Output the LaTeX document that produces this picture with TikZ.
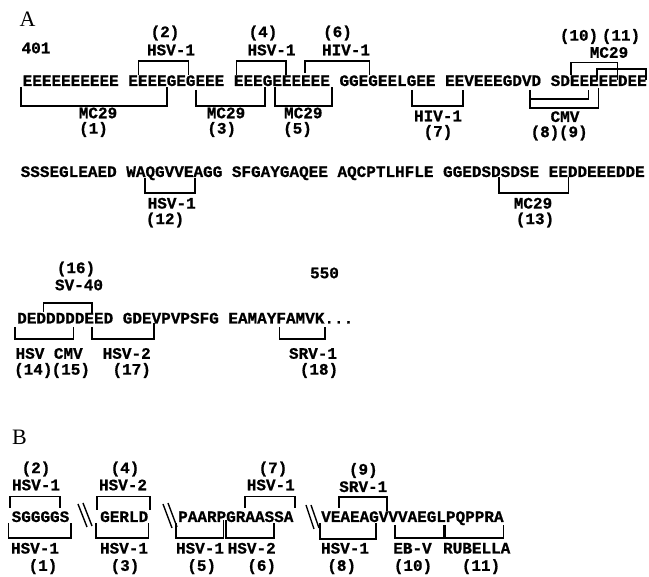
\documentclass[tikz,border=0pt]{standalone}
\usepackage{fontspec}
\setmainfont{Liberation Serif}
\newfontfamily\seqfont{Liberation Mono}[BoldFeatures={FakeBold=0.8}]
\newcommand\brkt[6]{%
  \coordinate (#1a) at (#2,#3);
  \coordinate (#1b) at (#4,#5);
  \coordinate (#1h) at (0,#6);
  \draw[brk] (#1a) -- (#1a |- #1h) -| (#1b);}
\begin{document}
\begin{tikzpicture}[x=1pt,y=-1pt,
  seq/.style={font={\seqfont\bfseries\fontsize{16}{16}\selectfont}, inner sep=0pt, anchor=base west},
  lab/.style={font={\seqfont\bfseries\fontsize{16}{16}\selectfont}, inner sep=0pt},
  panel/.style={font={\fontsize{22}{22}\selectfont}, inner sep=0pt, anchor=base west},
  brk/.style={line width=1.6pt, line join=miter},
  brk2/.style={line width=1.4pt}]
\useasboundingbox (0,0) rectangle (649,577);
% ---------------- panel A ----------------
\node[panel] (pA) at (19.5,27) {A};
\node[lab] (n401) at (36,48) {401};
\node[seq] (r1) at (22.5,86) {EEEEEEEEEE EEEEGEGEEE EEEGEEEEEE GGEGEELGEE EEVEEEGDVD SDEEEEEDEE};
% top brackets row 1
\brkt{t2}{138.3}{75}{188.3}{75}{61}
\brkt{t4}{236.5}{75}{286}{75}{61}
\brkt{t6}{305}{73}{369.3}{75}{61}
\brkt{t10}{571}{75}{617.5}{80}{62.5}
\brkt{t11}{597}{80}{646}{80}{69}
\node[lab] (l2) at (165,33) {(2)};
\node[lab] (v2) at (171,50) {HSV-1};
\node[lab] (l4) at (263,33) {(4)};
\node[lab] (v4) at (271.5,50) {HSV-1};
\node[lab] (l6) at (337.5,33) {(6)};
\node[lab] (v6) at (346,50) {HIV-1};
\node[lab] (l10) at (579,36.5) {(10)};
\node[lab] (l11) at (621,36.5) {(11)};
\node[lab] (v10) at (609,52.5) {MC29};
% bottom brackets row 1
\brkt{b1}{21}{87}{166.7}{87}{106}
\brkt{b3}{196}{90}{265}{87}{106}
\brkt{b5}{275}{87}{331.7}{87}{106}
\brkt{b7}{411.7}{90}{462.7}{90}{106}
\brkt{b8}{530}{90}{588.3}{90}{99}
\brkt{b9}{530}{90}{598.3}{88}{108}
\node[lab] (v1) at (98,113) {MC29};
\node[lab] (l1) at (93.5,129.5) {(1)};
\node[lab] (v3) at (226,113) {MC29};
\node[lab] (l3) at (221.7,129.5) {(3)};
\node[lab] (v5) at (303.3,113) {MC29};
\node[lab] (l5) at (297.5,129.5) {(5)};
\node[lab] (v7) at (438,116) {HIV-1};
\node[lab] (l7) at (438,132.5) {(7)};
\node[lab] (v8) at (565,116.7) {CMV};
\node[lab] (l8) at (545,133) {(8)};
\node[lab] (l9) at (573.3,133) {(9)};
% row 2
\node[seq] (r2) at (20.5,177) {SSSEGLEAED WAQGVVEAGG SFGAYGAQEE AQCPTLHFLE GGEDSDSDSE EEDDEEEDDE};
\brkt{b12}{145}{178}{195}{178}{193.3}
\node[lab] (v12) at (171.7,203.3) {HSV-1};
\node[lab] (l12) at (165,220) {(12)};
\brkt{b13}{499}{177}{568.3}{177}{193.3}
\node[lab] (v13) at (533,203.3) {MC29};
\node[lab] (l13) at (535,220) {(13)};
% row 3
\node[lab] (n550) at (324.5,273) {550};
\node[seq] (r3) at (17,323.5) {DEDDDDDEED GDEVPVPSFG EAMAYFAMVK...};
\brkt{t16}{43.3}{312}{91.7}{313}{303.3}
\node[lab] (v16) at (79,285) {SV-40};
\node[lab] (l16) at (76,269) {(16)};
\brkt{b14}{15}{327}{73.3}{327}{339}
\node[lab] (v14) at (30,353.5) {HSV};
\node[lab] (v15) at (68.3,353.5) {CMV};
\node[lab] (l14) at (33.3,370.5) {(14)};
\node[lab] (l15) at (70.8,370.5) {(15)};
\brkt{b17}{91.7}{327}{154}{323}{339}
\node[lab] (v17) at (126.7,353.5) {HSV-2};
\node[lab] (l17) at (131.7,370.5) {(17)};
\brkt{b18}{279.3}{327}{325}{327}{339}
\node[lab] (v18) at (313,353.5) {SRV-1};
\node[lab] (l18) at (319,370.5) {(18)};
% ---------------- panel B ----------------
\node[panel] (pB) at (12,445) {B};
\node[seq] (s1) at (11.5,522) {SGGGGS};
\node[seq] (s2) at (100,522) {GERLD};
\node[seq] (s3) at (178,522) {PAARPGRAASSA};
\node[seq] (s4) at (321,522) {VEAEAGVVVAEGLPQPPRA};
% break marks
\draw[brk2] (78,504) -- (87,527);
\draw[brk2] (83,503) -- (92,526);
\draw[brk2] (163,504) -- (172,528);
\draw[brk2] (168,503) -- (177,527);
\draw[brk2] (306,505) -- (314,529);
\draw[brk2] (311,505) -- (319,528);
% top brackets B
\brkt{u2}{10}{508}{60}{508}{496.7}
\node[lab] (w2) at (36,485) {HSV-1};
\node[lab] (m2) at (36,469) {(2)};
\brkt{u4}{96.7}{510}{150}{510}{496.7}
\node[lab] (w4) at (123,485) {HSV-2};
\node[lab] (m4) at (125,469) {(4)};
\brkt{u7}{245}{508}{295}{508}{496.7}
\node[lab] (w7) at (270.8,485) {HSV-1};
\node[lab] (m7) at (273,469) {(7)};
\brkt{u9}{339}{508}{386.7}{511}{497.3}
\node[lab] (w9) at (363.3,486.7) {SRV-1};
\node[lab] (m9) at (363.3,470.5) {(9)};
% bottom brackets B
\brkt{d1}{8.3}{523}{70.7}{523}{538.3}
\node[lab] (w1) at (35,548.3) {HSV-1};
\node[lab] (m1) at (43,566.7) {(1)};
\brkt{d3}{95.7}{523}{148.3}{523}{538.3}
\node[lab] (w3) at (124,548.3) {HSV-1};
\node[lab] (m3) at (125,566.7) {(3)};
\brkt{d5}{175.7}{523}{223.3}{520}{538.3}
\node[lab] (w5) at (200,548.3) {HSV-1};
\node[lab] (m5) at (201.7,566.7) {(5)};
\brkt{d6}{225.7}{520}{274}{523}{538.3}
\node[lab] (w6) at (251.7,548.3) {HSV-2};
\node[lab] (m6) at (261.7,566.7) {(6)};
\brkt{d8}{320}{523}{376}{523}{539}
\node[lab] (w8) at (345,548.3) {HSV-1};
\node[lab] (m8) at (341.7,566.7) {(8)};
\brkt{d10}{395}{525}{443.3}{525}{538.3}
\node[lab] (w10) at (412.5,548.3) {EB-V};
\node[lab] (m10) at (413,566.7) {(10)};
\brkt{d11}{445}{525}{503.3}{525}{538.3}
\node[lab] (w11) at (476.7,548.3) {RUBELLA};
\node[lab] (m11) at (481,566.7) {(11)};
\end{tikzpicture}
\end{document}
